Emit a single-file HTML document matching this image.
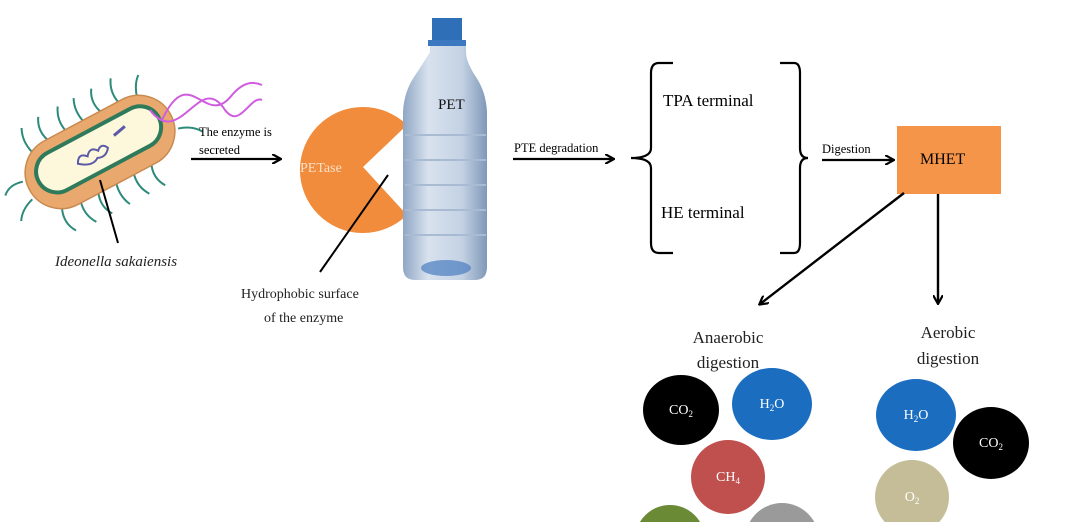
<!DOCTYPE html>
<html><head><meta charset="utf-8"><style>
html,body{margin:0;background:#fff;width:1080px;height:522px;overflow:hidden;}
svg{display:block;font-family:"Liberation Serif",serif;}
</style></head><body>
<svg width="1080" height="522" viewBox="0 0 1080 522" xmlns="http://www.w3.org/2000/svg">
<defs>
<marker id="ah" markerWidth="10" markerHeight="10" refX="8" refY="5" orient="auto" markerUnits="userSpaceOnUse">
<path d="M0,0 L9,5 L0,10" fill="none" stroke="#000" stroke-width="2.2"/></marker>
<linearGradient id="bt" x1="0" x2="1"><stop offset="0" stop-color="#8fa6c4"/><stop offset="0.3" stop-color="#d8e2ee"/><stop offset="0.7" stop-color="#c4d2e4"/><stop offset="1" stop-color="#7f98b8"/></linearGradient>
</defs>
<!-- bacterium -->
<g transform="translate(100,152) rotate(-28)">
<g stroke="#2e8a7a" stroke-width="2" fill="none">
<path d="M-60,-32 q-4,-14 2,-26 M-40,-34 q-6,-14 2,-26 M-20,-34 q-4,-14 4,-26 M0,-34 q-4,-14 2,-26 M20,-34 q-6,-14 2,-26 M40,-34 q-4,-14 4,-26 M58,-30 q4,-14 12,-20 M-60,32 q-6,14 2,26 M-40,34 q-4,14 4,26 M-20,34 q-6,14 2,26 M0,34 q-4,14 2,26 M20,34 q-4,14 4,26 M40,34 q-6,14 2,26 M-82,-10 q-14,-4 -22,4 M-82,10 q-14,4 -20,14 M80,16 q14,4 20,14"/>
</g>
<rect x="-80" y="-36" width="160" height="72" rx="36" fill="#e9a86e" stroke="#c98a50" stroke-width="1.5"/>
<rect x="-68" y="-24" width="136" height="42" rx="21" fill="#fdf8dc" stroke="#2e7a5a" stroke-width="4"/>
<path d="M-25,0 q5,-10 12,-2 q6,-8 12,0 q6,-6 10,2 q-6,8 -14,4 q-8,6 -20,-4z" fill="none" stroke="#5a5aa8" stroke-width="2"/>
<path d="M20,-8 l14,-3" stroke="#5a5aa8" stroke-width="3"/>
</g>
<path d="M162,120 C190,60 205,130 232,95 C245,80 255,82 262,85 M150,110 C180,150 200,70 225,110 C240,130 250,95 262,100" stroke="#d05ce0" stroke-width="2" fill="none"/>
<line x1="100" y1="180" x2="118" y2="243" stroke="#000" stroke-width="2"/>
<text x="55" y="266" font-size="15" font-style="italic" fill="#222">Ideonella sakaiensis</text>
<text x="199" y="136" font-size="12.5">The enzyme is</text>
<text x="199" y="154" font-size="12.5">secreted</text>
<line x1="191" y1="159" x2="280" y2="159" stroke="#000" stroke-width="2.2" marker-end="url(#ah)"/>
<!-- PETase -->
<path d="M407,125 A63,63 0 1 0 407,215 L363,167 Z" fill="#f08c3c"/>
<text x="300" y="172" font-size="14" fill="#fde0c8">PETase</text>
<line x1="388" y1="175" x2="320" y2="272" stroke="#000" stroke-width="2"/>
<text x="241" y="298" font-size="14" fill="#222">Hydrophobic surface</text>
<text x="264" y="322" font-size="14" fill="#222">of the enzyme</text>
<!-- bottle -->
<path d="M430,44 h36 v8 q0,10 10,25 q10,15 11,35 v155 q0,13 -12,13 h-60 q-12,0 -12,-13 v-155 q1,-20 11,-35 q10,-15 16,-25z" fill="url(#bt)"/>
<rect x="432" y="18" width="30" height="26" fill="#2f6fb8"/>
<rect x="428" y="40" width="38" height="6" fill="#3b78c0"/>
<g stroke="#a9bbd2" stroke-width="2"><line x1="405" y1="135" x2="486" y2="135"/><line x1="405" y1="160" x2="486" y2="160"/><line x1="405" y1="185" x2="486" y2="185"/><line x1="405" y1="210" x2="486" y2="210"/><line x1="405" y1="235" x2="486" y2="235"/></g>
<ellipse cx="446" cy="268" rx="25" ry="8" fill="#4a7ec0" opacity="0.7"/>
<text x="438" y="109" font-size="15" fill="#111">PET</text>
<text x="514" y="152" font-size="12.5">PTE degradation</text>
<line x1="513" y1="159" x2="613" y2="159" stroke="#000" stroke-width="2.2" marker-end="url(#ah)"/>
<path d="M673,63 h-14 q-8,0 -8,10 v75 q0,10 -20,10 q20,0 20,10 v75 q0,10 8,10 h14" fill="none" stroke="#000" stroke-width="2.2"/>
<path d="M780,63 h14 q6,0 6,10 v75 q0,10 8,10 q-8,0 -8,10 v75 q0,10 -6,10 h-14" fill="none" stroke="#000" stroke-width="2.2"/>
<text x="663" y="106" font-size="17">TPA terminal</text>
<text x="661" y="218" font-size="17">HE terminal</text>
<text x="822" y="153" font-size="12.5">Digestion</text>
<line x1="822" y1="160" x2="893" y2="160" stroke="#000" stroke-width="2.2" marker-end="url(#ah)"/>
<rect x="897" y="126" width="104" height="68" fill="#f5954a"/>
<text x="920" y="164" font-size="16">MHET</text>
<line x1="904" y1="193" x2="760" y2="304" stroke="#000" stroke-width="2.4" marker-end="url(#ah)"/>
<line x1="938" y1="194" x2="938" y2="303" stroke="#000" stroke-width="2.4" marker-end="url(#ah)"/>
<text x="728" y="343" font-size="17" text-anchor="middle" fill="#222">Anaerobic</text>
<text x="728" y="368" font-size="17" text-anchor="middle" fill="#222">digestion</text>
<text x="948" y="338" font-size="17" text-anchor="middle" fill="#222">Aerobic</text>
<text x="948" y="364" font-size="17" text-anchor="middle" fill="#222">digestion</text>
<g font-size="14" text-anchor="middle" fill="#fff">
<ellipse cx="681" cy="410" rx="38" ry="35" fill="#000"/><text x="681" y="414">CO<tspan font-size="9" dy="3">2</tspan></text>
<ellipse cx="772" cy="404" rx="40" ry="36" fill="#1a6dbf"/><text x="772" y="408">H<tspan font-size="9" dy="3">2</tspan><tspan dy="-3">O</tspan></text>
<circle cx="728" cy="477" r="37" fill="#c0504d"/><text x="728" y="481">CH<tspan font-size="9" dy="3">4</tspan></text>
<circle cx="670" cy="540" r="35" fill="#6b8a35"/>
<circle cx="782" cy="540" r="37" fill="#9a9a9a"/>
<ellipse cx="916" cy="415" rx="40" ry="36" fill="#1a6dbf"/><text x="916" y="419">H<tspan font-size="9" dy="3">2</tspan><tspan dy="-3">O</tspan></text>
<ellipse cx="991" cy="443" rx="38" ry="36" fill="#000"/><text x="991" y="447">CO<tspan font-size="9" dy="3">2</tspan></text>
<circle cx="912" cy="497" r="37" fill="#c4bd97"/><text x="912" y="501">O<tspan font-size="9" dy="3">2</tspan></text>
</g>
</svg>
</body></html>
